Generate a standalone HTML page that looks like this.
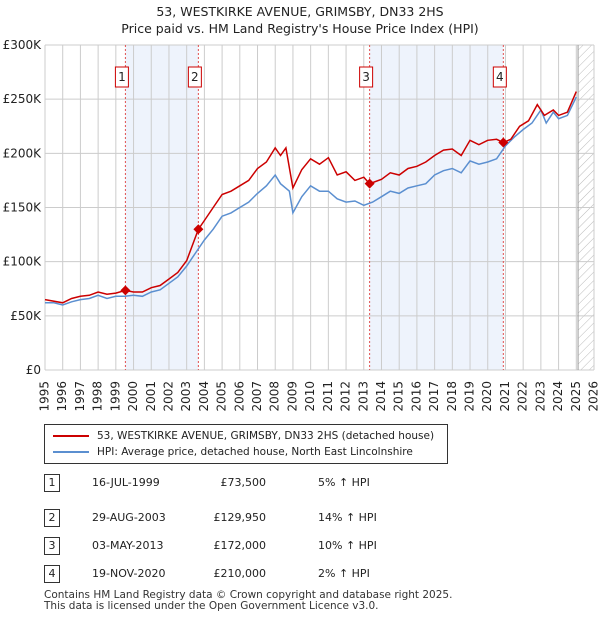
<!DOCTYPE html>
<html><head><meta charset="utf-8"><style>
body{margin:0;width:600px;height:620px;background:#fff;font-family:"DejaVu Sans","Liberation Sans",sans-serif;color:#222;overflow:hidden;position:relative}
.t{position:absolute;font-size:11px}
</style></head><body>
<div class="t" style="left:0;width:600px;top:3px;text-align:center;font-size:12.5px;line-height:17px">53, WESTKIRKE AVENUE, GRIMSBY, DN33 2HS<br>Price paid vs. HM Land Registry's House Price Index (HPI)</div>
<svg id="c" width="600" height="420" style="position:absolute;left:0;top:0;font-family:'DejaVu Sans',sans-serif"></svg>
<div style="position:absolute;left:44px;top:424px;width:402px;height:38px;border:1px solid #333;font-size:10.5px">
<div style="position:absolute;left:8px;top:5px;white-space:nowrap"><span style="display:inline-block;width:36px;height:2px;background:#cc0000;vertical-align:middle;margin-right:8px"></span>53, WESTKIRKE AVENUE, GRIMSBY, DN33 2HS (detached house)</div>
<div style="position:absolute;left:8px;top:21px;white-space:nowrap"><span style="display:inline-block;width:36px;height:2px;background:#5b8fd0;vertical-align:middle;margin-right:8px"></span>HPI: Average price, detached house, North East Lincolnshire</div>
</div>
<div id="tbl"></div>
<div class="t" style="left:44px;top:590px;font-size:10.5px;line-height:11px;color:#333">Contains HM Land Registry data © Crown copyright and database right 2025.<br>This data is licensed under the Open Government Licence v3.0.</div>
<script>
const hpiYears=[1995,1995.5,1996,1996.5,1997,1997.5,1998,1998.5,1999,1999.5,2000,2000.5,2001,2001.5,2002,2002.5,2003,2003.5,2004,2004.5,2005,2005.5,2006,2006.5,2007,2007.5,2008,2008.3,2008.8,2009,2009.5,2010,2010.5,2011,2011.5,2012,2012.5,2013,2013.5,2014,2014.5,2015,2015.5,2016,2016.5,2017,2017.5,2018,2018.5,2019,2019.5,2020,2020.5,2021,2021.5,2022,2022.5,2023,2023.3,2023.7,2024,2024.5,2025];
const hpiValues=[62,62,60,63,65,66,69,66,68,68,69,68,72,74,80,86,96,108,120,130,142,145,150,155,163,170,180,172,165,145,160,170,165,165,158,155,156,152,155,160,165,163,168,170,172,180,184,186,182,193,190,192,195,207,215,222,228,240,228,238,232,235,252];
const priceYears=[1995,1996,1996.5,1997,1997.5,1998,1998.5,1999,1999.54,2000,2000.5,2001,2001.5,2002,2002.5,2003,2003.66,2004,2004.5,2005,2005.5,2006,2006.5,2007,2007.5,2008,2008.3,2008.6,2009,2009.5,2010,2010.5,2011,2011.5,2012,2012.5,2013,2013.33,2014,2014.5,2015,2015.5,2016,2016.5,2017,2017.5,2018,2018.5,2019,2019.5,2020,2020.5,2020.88,2021.3,2021.8,2022.3,2022.8,2023.2,2023.7,2024,2024.5,2025];
const priceValues=[65,62,66,68,69,72,70,71,73.5,72,72,76,78,84,90,101,130,138,150,162,165,170,175,186,192,205,198,205,168,185,195,190,196,180,183,175,178,172,176,182,180,186,188,192,198,203,204,198,212,208,212,213,210,213,225,230,245,235,240,235,238,257];
const saleYears=[1999.54,2003.66,2013.33,2020.88];
const salePrices=[73.5,129.95,172,210];
const yTicks=[0,50,100,150,200,250,300];
const yLabels=["£0","£50K","£100K","£150K","£200K","£250K","£300K"];
const xYears=[];for(let y=1995;y<=2026;y++)xYears.push(y);
const sales=[["1","16-JUL-1999","£73,500","5% ↑ HPI"],["2","29-AUG-2003","£129,950","14% ↑ HPI"],["3","03-MAY-2013","£172,000","10% ↑ HPI"],["4","19-NOV-2020","£210,000","2% ↑ HPI"]];
const X0=45,X1=594,Y0=370,Y1=45;
const sx=y=>X0+(y-1995)/(2026-1995)*(X1-X0);
const sy=v=>Y0-v/300*(Y0-Y1);
const ns="http://www.w3.org/2000/svg",svg=document.getElementById('c');
function mk(t,a,p){const e=document.createElementNS(ns,t);for(const k in a)e.setAttribute(k,a[k]);(p||svg).appendChild(e);return e;}
const defs=mk('defs',{});const pat=mk('pattern',{id:'h',width:6,height:6,patternUnits:'userSpaceOnUse',patternTransform:'rotate(45)'},defs);mk('line',{x1:0,y1:0,x2:0,y2:6,stroke:'#bbb','stroke-width':1},pat);
for(const [a,b] of [[0,1],[2,3]]){const r=mk('rect',{x:sx(saleYears[a]),y:Y1,width:sx(saleYears[b])-sx(saleYears[a]),height:Y0-Y1,fill:'#eef3fc'});

}
const hx=sx(2025.1);const hr=mk('rect',{x:hx,y:Y1,width:X1-hx,height:Y0-Y1,fill:'url(#h)'});


xYears.forEach(y=>{mk('line',{x1:sx(y),x2:sx(y),y1:Y1,y2:Y0,stroke:'#ccc'});
const t=mk('text',{x:sx(y),y:Y0+11,transform:`rotate(-90 ${sx(y)} ${Y0+11})`,'text-anchor':'end','dominant-baseline':'middle','font-size':12,fill:'#222'});t.textContent=y;

});
yTicks.forEach((v,i)=>{mk('line',{x1:X0,x2:X1,y1:sy(v),y2:sy(v),stroke:'#ccc'});
const t=mk('text',{x:X0-4,y:sy(v)+4,'text-anchor':'end','font-size':12,fill:'#222'});t.textContent=yLabels[i];

});
mk('line',{x1:hx,x2:hx,y1:Y1,y2:Y0,stroke:'#999'});
saleYears.forEach((y,i)=>{mk('line',{x1:sx(y),x2:sx(y),y1:Y1,y2:Y0,stroke:'#e05050','stroke-dasharray':'2,2','stroke-width':1});
const g=mk('g',{});
mk('rect',{x:sx(y)-10,y:67,width:13,height:20,fill:'#fff',stroke:'#cc0000'},g);
const t=mk('text',{x:sx(y)-3.5,y:81,'text-anchor':'middle','font-size':12,fill:'#222'},g);t.textContent=i+1;});
function line(xs,vs,col,name){const p=mk('path',{d:xs.map((x,i)=>(i?'L':'M')+sx(x).toFixed(1)+','+sy(vs[i]).toFixed(1)).join(''),fill:'none',stroke:col,'stroke-width':1.5});

}
line(hpiYears,hpiValues,'#5b8fd0','hpi-line');
line(priceYears,priceValues,'#cc0000','price-line');
saleYears.forEach((y,i)=>{const c=mk('path',{d:`M${sx(y)},${sy(salePrices[i])-5}l5,5l-5,5l-5,-5z`,fill:'#cc0000'});

});
const tb=document.getElementById('tbl');const rowsY=[482,517,545,573];
sales.forEach((s,i)=>{const top=rowsY[i];
const d=document.createElement('div');
d.innerHTML=`<div style="position:absolute;left:44px;top:${top-8}px;width:14px;height:16px;border:1px solid #333;font-size:11px;text-align:center;line-height:16px">${s[0]}</div>
<div class="t" style="left:92px;top:${top-6}px">${s[1]}</div>
<div class="t" style="left:180px;top:${top-6}px;width:86px;text-align:right">${s[2]}</div>
<div class="t" style="left:318px;top:${top-6}px">${s[3]}</div>`;tb.appendChild(d);});
</script>
</body></html>
